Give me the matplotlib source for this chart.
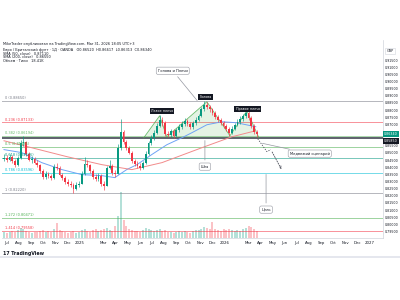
import matplotlib
matplotlib.use("Agg")
import matplotlib.pyplot as plt
import matplotlib.dates as mdates
import pandas as pd

# ── Data: EUR/GBP, weekly candles ────────────────────────────────
START = "2024-06-24"
first_open = 0.8455
closes = [
    0.8467, 0.8453, 0.8474, 0.8446, 0.8418, 0.8467, 0.8571, 0.8578, 0.8495, 0.8453,
    0.8460, 0.8432, 0.8418, 0.8376, 0.8334, 0.8355, 0.8341, 0.8327, 0.8404, 0.8397,
    0.8348, 0.8327, 0.8299, 0.8285, 0.8278, 0.8250, 0.8278, 0.8285, 0.8355, 0.8425,
    0.8418, 0.8376, 0.8334, 0.8320, 0.8341, 0.8285, 0.8271, 0.8397, 0.8411, 0.8362,
    0.8355, 0.8536, 0.8648, 0.8578, 0.8536, 0.8502, 0.8446, 0.8425, 0.8411, 0.8397,
    0.8432, 0.8495, 0.8571, 0.8606, 0.8641, 0.8690, 0.8732, 0.8711, 0.8634, 0.8627,
    0.8655, 0.8618, 0.8660, 0.8683, 0.8705, 0.8725, 0.8700, 0.8680, 0.8710, 0.8730,
    0.8760, 0.8805, 0.8837, 0.8820, 0.8805, 0.8781, 0.8753, 0.8732, 0.8711, 0.8690,
    0.8669, 0.8641, 0.8669, 0.8697, 0.8718, 0.8739, 0.8760, 0.8781, 0.8746, 0.8690,
    0.8648, 0.8634,
]
highs = [
    0.8490, 0.8485, 0.8492, 0.8488, 0.8455, 0.8480, 0.8590, 0.8620, 0.8585, 0.8505,
    0.8478, 0.8470, 0.8448, 0.8425, 0.8385, 0.8370, 0.8368, 0.8350, 0.8425, 0.8430,
    0.8405, 0.8360, 0.8340, 0.8315, 0.8305, 0.8290, 0.8295, 0.8300, 0.8370, 0.8470,
    0.8448, 0.8425, 0.8385, 0.8350, 0.8360, 0.8350, 0.8300, 0.8410, 0.8448, 0.8420,
    0.8380, 0.8560, 0.8735, 0.8660, 0.8590, 0.8550, 0.8515, 0.8460, 0.8445, 0.8430,
    0.8445, 0.8510, 0.8585, 0.8625, 0.8660, 0.8710, 0.8767, 0.8750, 0.8720, 0.8655,
    0.8670, 0.8668, 0.8675, 0.8700, 0.8720, 0.8745, 0.8738, 0.8715, 0.8725, 0.8748,
    0.8775, 0.8820, 0.8865, 0.8855, 0.8835, 0.8815, 0.8790, 0.8765, 0.8745, 0.8725,
    0.8700, 0.8680, 0.8685, 0.8712, 0.8735, 0.8755, 0.8775, 0.8802, 0.8790, 0.8755,
    0.8700, 0.8660,
]
lows = [
    0.8440, 0.8438, 0.8440, 0.8430, 0.8400, 0.8410, 0.8460, 0.8545, 0.8480, 0.8440,
    0.8430, 0.8420, 0.8400, 0.8360, 0.8315, 0.8320, 0.8325, 0.8310, 0.8320, 0.8380,
    0.8335, 0.8310, 0.8285, 0.8265, 0.8260, 0.8222, 0.8240, 0.8260, 0.8280, 0.8345,
    0.8400, 0.8360, 0.8320, 0.8300, 0.8305, 0.8270, 0.8240, 0.8265, 0.8385, 0.8345,
    0.8330, 0.8350, 0.8520, 0.8560, 0.8520, 0.8490, 0.8430, 0.8410, 0.8395, 0.8380,
    0.8385, 0.8425, 0.8485, 0.8555, 0.8590, 0.8630, 0.8680, 0.8690, 0.8620, 0.8610,
    0.8612, 0.8605, 0.8610, 0.8645, 0.8670, 0.8690, 0.8685, 0.8665, 0.8670, 0.8695,
    0.8720, 0.8750, 0.8795, 0.8805, 0.8785, 0.8765, 0.8740, 0.8718, 0.8695, 0.8675,
    0.8650, 0.8620, 0.8630, 0.8660, 0.8685, 0.8705, 0.8725, 0.8745, 0.8730, 0.8675,
    0.8630, 0.8610,
]
volumes = [
    6, 5, 6, 7, 6, 8, 10, 9, 7, 6,
    5, 6, 6, 7, 8, 6, 7, 6, 9, 15,
    8, 7, 6, 5, 6, 7, 5, 6, 8, 9,
    7, 6, 8, 9, 7, 8, 9, 10, 8, 7,
    12, 22, 46, 18, 12, 9, 8, 7, 7, 6,
    8, 10, 9, 8, 7, 8, 9, 7, 8, 6,
    6, 5, 6, 7, 6, 7, 6, 5, 7, 8,
    8, 9, 11, 10, 9, 16, 9, 8, 7, 9,
    8, 9, 8, 7, 8, 7, 9, 10, 12, 11,
    9, 7,
]

sma50_dates = ["2024-06-24", "2024-08-08", "2024-09-27", "2024-11-17", "2025-01-06",
               "2025-02-25", "2025-03-30", "2025-04-29", "2025-05-25", "2025-07-01",
               "2025-08-08", "2025-09-15", "2025-10-10", "2025-11-17", "2025-12-25",
               "2026-01-31", "2026-03-20"]
sma50_vals = [0.8523, 0.8502, 0.8432, 0.8383, 0.8348, 0.8341, 0.8327, 0.8383, 0.8418,
              0.8488, 0.8557, 0.8606, 0.8641, 0.8697, 0.8718, 0.8711, 0.8683]
sma200_dates = ["2024-06-24", "2024-09-02", "2024-11-29", "2025-02-25", "2025-05-12",
                "2025-07-27", "2025-11-04", "2026-01-19", "2026-03-20"]
sma200_vals = [0.8585, 0.8536, 0.8474, 0.8418, 0.8383, 0.8432, 0.8536, 0.8613, 0.8655]

FIB_HIGH = 0.8865
FIB_LOW = 0.8222
fib_levels = [0, 0.236, 0.382, 0.5, 0.618, 0.786, 1, 1.272, 1.414]
fib_colors = ["#787b86", "#f23645", "#66bb6a", "#4caf50", "#089981",
              "#00bcd4", "#787b86", "#4caf50", "#f23645"]
NECKLINE = 0.8606

# head & shoulders pattern points (date, price)
hs_dates = ["2025-06-11", "2025-07-21", "2025-08-08", "2025-11-17",
            "2026-01-14", "2026-02-26", "2026-03-28"]
hs_prices = [0.8606, 0.8760, 0.8613, 0.8858, 0.8620, 0.8795, 0.8606]

# bearish projection path
proj_dates = ["2026-03-25", "2026-04-17", "2026-04-27", "2026-05-27"]
proj_prices = [0.8599, 0.8509, 0.8523, 0.8369]

# right-scale price ticks (the two hidden under the price labels are left out)
price_ticks = [0.795, 0.800, 0.805, 0.810, 0.815, 0.820, 0.825, 0.830, 0.835, 0.840,
               0.845, 0.850, 0.855, 0.870, 0.875, 0.880, 0.885, 0.890, 0.895,
               0.900, 0.905, 0.910, 0.915]

tick_dates = ["2024-07-01", "2024-08-01", "2024-09-01", "2024-10-01", "2024-11-01",
              "2024-12-01", "2025-01-01", "2025-03-01", "2025-04-01", "2025-05-01",
              "2025-06-01", "2025-07-01", "2025-08-01", "2025-09-01", "2025-10-01",
              "2025-11-01", "2025-12-01", "2026-01-01", "2026-03-01", "2026-04-01",
              "2026-05-01", "2026-06-01", "2026-07-01", "2026-08-01", "2026-09-01",
              "2026-10-01", "2026-11-01", "2026-12-01", "2027-01-01"]
tick_labels = ["Jul", "Aug", "Sep", "Oct", "Nov", "Dec", "2025", "Mar", "Apr", "May",
               "Jun", "Jul", "Aug", "Sep", "Oct", "Nov", "Dec", "2026", "Mar", "Apr",
               "May", "Jun", "Jul", "Aug", "Sep", "Oct", "Nov", "Dec", "2027"]

GREEN = "#089981"
RED = "#f23645"
TXT = "#131722"


def d(s):
    return mdates.date2num(pd.Timestamp(s))


dates = mdates.date2num(pd.date_range(START, periods=len(closes), freq="7D"))
opens = [first_open] + closes[:-1]

fig = plt.figure(figsize=(4, 3), dpi=100)
fig.patch.set_facecolor("white")
ax = fig.add_axes([0.005, 0.207, 0.953, 0.66])
vax = ax.twinx()
ax.set_zorder(vax.get_zorder() + 1)
ax.patch.set_visible(False)

# ── Volume ──
vcols = [GREEN if c >= o else RED for o, c in zip(opens, closes)]
vax.bar(dates, volumes, width=5, color=vcols, alpha=0.3, linewidth=0)
vax.set_ylim(0, 198)
vax.axis("off")

# ── Fib retracement ──
for lvl, col in zip(fib_levels, fib_colors):
    price = FIB_HIGH - lvl * (FIB_HIGH - FIB_LOW)
    ax.axhline(price, color=col, lw=0.7, alpha=0.55, zorder=1)
    ax.text(d("2024-06-26"), price + 0.0004, f"{lvl:g} ({price:.5f})",
            color=col, fontsize=2.5, va="bottom", ha="left", zorder=6)

# neckline ray
ax.axhline(NECKLINE, color="#5d606b", lw=1.4, zorder=2)

# ── Head & shoulders shading ──
hx = [d(s) for s in hs_dates]
ax.fill(hx, hs_prices, color="#4caf50", alpha=0.15, lw=0, zorder=2)
ax.plot(hx, hs_prices, color="#4caf50", lw=0.6, alpha=0.8, zorder=2)

# ── Moving averages ──
ax.plot([d(s) for s in sma50_dates], sma50_vals, color="#6fa3f5", lw=0.7, zorder=3)
ax.plot([d(s) for s in sma200_dates], sma200_vals, color="#f28b8b", lw=0.7, zorder=3)

# ── Candles ──
for x, o, h, l, c in zip(dates, opens, highs, lows, closes):
    col = GREEN if c >= o else RED
    ax.vlines(x, l, h, color=col, lw=0.45, zorder=4)
    ax.bar(x, max(abs(c - o), 0.00015), bottom=min(o, c), width=4.5,
           color=col, linewidth=0, zorder=5)

# ── Projection ──
px = [d(s) for s in proj_dates]
ax.plot(px[:-1], proj_prices[:-1], color="#50535e", lw=0.6, ls=(0, (1.5, 1.5)), zorder=6)
ax.annotate("", xy=(px[-1], proj_prices[-1]), xytext=(px[-2], proj_prices[-2]),
            arrowprops=dict(arrowstyle="->", color="#50535e", lw=0.6,
                            ls=(0, (1.5, 1.5)), mutation_scale=4), zorder=6)

# ── Labels ──
dark = dict(boxstyle="square,pad=0.35", fc="#131722", ec="none")
for txt, xs, yv in [("Левое плечо", "2025-07-27", 0.8795),
                    ("Голова", "2025-11-14", 0.8893),
                    ("Правое плечо", "2026-02-28", 0.8809)]:
    ax.text(d(xs), yv, txt, color="white", fontsize=2.4, ha="center", va="center",
            bbox=dark, zorder=8)

call = dict(boxstyle="round,pad=0.45", fc="white", ec="#9598a1", lw=0.4)
line = dict(arrowstyle="-", color="#9598a1", lw=0.5)
ax.annotate("Голова и Плечи", xy=(d("2025-10-28"), 0.8851),
            xytext=(d("2025-08-23"), 0.9075), fontsize=2.6, color=TXT,
            ha="center", va="center", bbox=call, arrowprops=line, zorder=8)
ax.annotate("Шея", xy=(d("2025-11-12"), NECKLINE),
            xytext=(d("2025-11-12"), 0.8404), fontsize=2.6, color=TXT,
            ha="center", va="center", bbox=call, arrowprops=line, zorder=8)
ax.annotate("Медвежий сценарий", xy=(d("2026-03-30"), 0.8571),
            xytext=(d("2026-08-03"), 0.8495), fontsize=2.6, color=TXT,
            ha="center", va="center", bbox=call, arrowprops=line, zorder=8)
ax.annotate("Цель", xy=(d("2026-04-15"), 0.8369),
            xytext=(d("2026-04-15"), 0.8103), fontsize=2.6, color=TXT,
            ha="center", va="center", bbox=call, arrowprops=line, zorder=8)

# ── Axes ──
ax.set_xlim(d("2024-06-19"), d("2027-02-04"))
ax.set_ylim(0.7905, 0.9291)
ax.yaxis.tick_right()
ax.set_yticks(price_ticks)
ax.set_yticklabels([f"{v:.5f}" for v in price_ticks])
ax.set_xticks([d(s) for s in tick_dates])
ax.set_xticklabels(tick_labels)
ax.tick_params(axis="x", length=0, labelsize=2.8, labelcolor=TXT, pad=2)
ax.tick_params(axis="y", length=0, labelsize=2.3, labelcolor=TXT, pad=1.2)
for s in ["top", "left"]:
    ax.spines[s].set_visible(False)
for s in ["right", "bottom"]:
    ax.spines[s].set_color("#d1d4dc")
    ax.spines[s].set_linewidth(0.5)

# price labels on right scale
last = closes[-1]
ax.text(1.002, ax.transLimits.transform((0, last))[1], f"{last:.5f}",
        transform=ax.transAxes, fontsize=2.3, color="white", va="center",
        ha="left", bbox=dict(boxstyle="square,pad=0.3", fc=GREEN, ec="none"), zorder=9)
ax.text(1.002, ax.transLimits.transform((0, 0.8585))[1], "0.85850",
        transform=ax.transAxes, fontsize=2.3, color="white", va="center",
        ha="left", bbox=dict(boxstyle="square,pad=0.3", fc="#131722", ec="none"), zorder=9)

# ── Header ──
fig.text(0.008, 1 - 44 / 300, "MikeTrader опубликовал на TradingView.com, Mar 31, 2026 18:05 UTC+3",
         fontsize=2.5, color=TXT, va="center")
fig.text(0.008, 1 - 50 / 300, "Евро / Британский фунт · 1Д · OANDA   O0.86520  H0.86617  L0.86313  C0.86340",
         fontsize=2.5, color=TXT, va="center")
fig.text(0.008, 1 - 53.7 / 300, "SMA (50, close)   0.87110", fontsize=2.5, color=TXT, va="center")
fig.text(0.008, 1 - 57.4 / 300, "SMA (200, close)   0.86550", fontsize=2.5, color=TXT, va="center")
fig.text(0.008, 1 - 61.1 / 300, "Объем · Тики   18.41K", fontsize=2.5, color=TXT, va="center")
fig.text(0.975, 1 - 51 / 300, "GBP", fontsize=2.5, color=TXT, va="center", ha="center",
         bbox=dict(boxstyle="square,pad=0.4", fc="white", ec="#d1d4dc", lw=0.4))

# footer with logo
fig.text(0.008, 1 - 253 / 300, "17 TradingView", fontsize=3.4, color=TXT,
         weight="bold", va="center")
fig.add_artist(plt.Line2D([0, 1], [1 - 257 / 300] * 2, color="#e0e3eb", lw=1.2))

fig.savefig("out.png", dpi=100, facecolor="white")
